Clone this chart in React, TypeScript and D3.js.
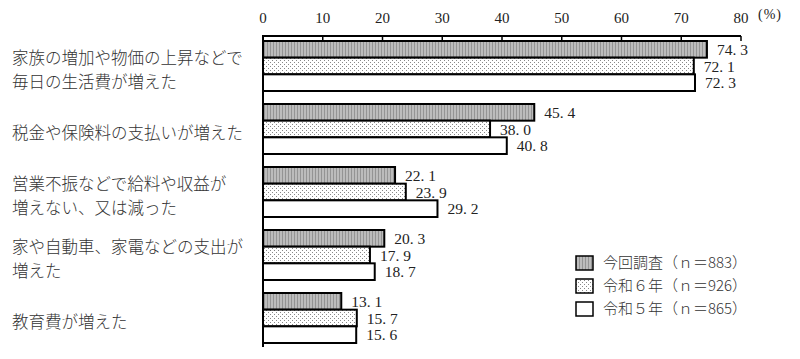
import * as d3 from 'd3';
import React, { useEffect, useRef } from 'react';

const categories = [
  '家族の増加や物価の上昇などで\n毎日の生活費が増えた',
  '税金や保険料の支払いが増えた',
  '営業不振などで給料や収益が\n増えない、又は減った',
  '家や自動車、家電などの支出が\n増えた',
  '教育費が増えた',
];
const seriesNames = ['今回調査（ｎ＝883）', '令和６年（ｎ＝926）', '令和５年（ｎ＝865）'];
const currentValues = [74.3, 45.4, 22.1, 20.3, 13.1];
const r6Values = [72.1, 38.0, 23.9, 17.9, 15.7];
const r5Values = [72.3, 40.8, 29.2, 18.7, 15.6];
const xTicks = [0, 10, 20, 30, 40, 50, 60, 70, 80];

const JP = '"Noto Sans CJK JP", sans-serif';
const NUM = '"Liberation Serif", "DejaVu Serif", serif';

const App: React.FC = () => {
  const svgRef = useRef<SVGSVGElement>(null);

  useEffect(() => {
    const svg = d3.select(svgRef.current);
    svg.selectAll('*').remove();

    const series = [currentValues, r6Values, r5Values];
    const fills = ['url(#stripe)', 'url(#dots)', '#fff'];

    const x = d3.scaleLinear().domain([0, 80]).range([263, 741]);
    const y = d3
      .scaleBand<string>()
      .domain(categories)
      .range([41, 343])
      .paddingInner(13 / 63)
      .paddingOuter(0);
    const yi = d3
      .scaleBand<number>()
      .domain([0, 1, 2])
      .range([0, y.bandwidth()]);

    // patterns
    const defs = svg.append('defs');
    const stripe = defs
      .append('pattern')
      .attr('id', 'stripe')
      .attr('patternUnits', 'userSpaceOnUse')
      .attr('width', 3)
      .attr('height', 3);
    stripe.append('rect').attr('width', 3).attr('height', 3).attr('fill', '#bcbcbc');
    stripe.append('rect').attr('width', 1).attr('height', 3).attr('fill', '#949494');

    const dots = defs
      .append('pattern')
      .attr('id', 'dots')
      .attr('patternUnits', 'userSpaceOnUse')
      .attr('width', 4)
      .attr('height', 4);
    dots.append('rect').attr('width', 4).attr('height', 4).attr('fill', '#fff');
    dots.append('rect').attr('x', 0).attr('y', 0).attr('width', 1).attr('height', 1).attr('fill', '#888');
    dots.append('rect').attr('x', 2).attr('y', 2).attr('width', 1).attr('height', 1).attr('fill', '#888');

    // top axis
    const axis = svg.append('g');
    axis
      .append('line')
      .attr('x1', x(0))
      .attr('x2', x(80))
      .attr('y1', 36)
      .attr('y2', 36)
      .attr('stroke', '#000')
      .attr('stroke-width', 2);
    axis
      .selectAll('.tick')
      .data(xTicks)
      .enter()
      .append('line')
      .attr('x1', (d) => x(d))
      .attr('x2', (d) => x(d))
      .attr('y1', 36)
      .attr('y2', 41)
      .attr('stroke', '#000')
      .attr('stroke-width', 1.5);
    axis
      .selectAll('.tlabel')
      .data(xTicks)
      .enter()
      .append('text')
      .attr('x', (d) => x(d))
      .attr('y', 23)
      .attr('text-anchor', 'middle')
      .attr('font-family', NUM)
      .attr('font-size', 15)
      .attr('fill', '#222')
      .text((d) => d);
    axis
      .append('text')
      .attr('x', 758)
      .attr('y', 19)
      .attr('font-family', NUM)
      .attr('font-size', 14)
      .attr('letter-spacing', 1)
      .attr('fill', '#222')
      .text('(%)');

    // bars
    series.forEach((vals, si) => {
      const g = svg.append('g');
      g.selectAll('rect')
        .data(vals)
        .enter()
        .append('rect')
        .attr('x', x(0))
        .attr('y', (d, i) => y(categories[i])! + yi(si)!)
        .attr('width', (d) => x(d) - x(0))
        .attr('height', yi.bandwidth())
        .attr('fill', fills[si])
        .attr('stroke', '#000')
        .attr('stroke-width', 2);
      g.selectAll('text')
        .data(vals)
        .enter()
        .append('text')
        .attr('x', (d) => x(d) + 10)
        .attr('y', (d, i) => y(categories[i])! + yi(si)! + yi.bandwidth() / 2)
        .attr('dy', '0.36em')
        .attr('font-family', NUM)
        .attr('font-size', 15.5)
        .attr('fill', '#222')
        .text((d) => d.toFixed(1).replace('.', '. '));
    });

    // left axis line
    svg
      .append('line')
      .attr('x1', x(0))
      .attr('x2', x(0))
      .attr('y1', 35)
      .attr('y2', 347)
      .attr('stroke', '#000')
      .attr('stroke-width', 2);

    // category labels
    const labels = svg
      .selectAll('.cat')
      .data(categories)
      .enter()
      .append('text')
      .attr('font-family', JP)
      .attr('font-size', 16.5)
      .attr('font-weight', 300)
      .attr('fill', '#333');
    labels.each(function (d) {
      const lines = d.split('\n');
      const cy = y(d)! + y.bandwidth() / 2 + 4;
      d3.select(this)
        .selectAll('tspan')
        .data(lines)
        .enter()
        .append('tspan')
        .attr('x', 12)
        .attr('y', (l, i) => cy + (i - (lines.length - 1) / 2) * 23.5)
        .attr('dy', '0.36em')
        .text((l) => l);
    });

    // legend
    const legend = svg.append('g');
    seriesNames.forEach((name, i) => {
      const ly = 263 + i * 23;
      legend
        .append('rect')
        .attr('x', 576)
        .attr('y', ly - 7)
        .attr('width', 17)
        .attr('height', 14)
        .attr('fill', fills[i])
        .attr('stroke', '#000')
        .attr('stroke-width', 1.5);
      legend
        .append('text')
        .attr('x', 603)
        .attr('y', ly)
        .attr('dy', '0.36em')
        .attr('font-family', JP)
        .attr('font-size', 15)
        .attr('font-weight', 300)
        .attr('fill', '#333')
        .text(name);
    });
  }, []);

  return (
    <svg
      ref={svgRef}
      width={800}
      height={359}
      style={{ position: 'absolute', left: 0, top: 0, background: '#fff' }}
    />
  );
};

export default App;
